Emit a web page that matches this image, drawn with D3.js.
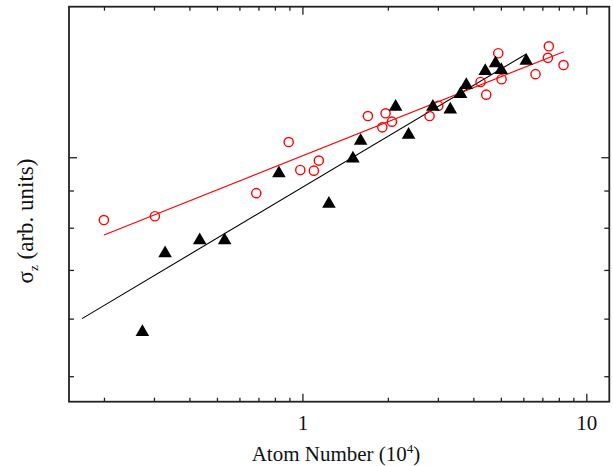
<!DOCTYPE html>
<html>
<head>
<meta charset="utf-8">
<script src="https://cdn.jsdelivr.net/npm/d3@7/dist/d3.min.js"></script>
<style>
  html, body { margin: 0; padding: 0; background: #fff; }
  svg text { font-family: "Liberation Serif", "Times New Roman", serif; fill: #111; }
</style>
</head>
<body>
<svg id="chart" width="613" height="466"></svg>
<script>
// Atom number (units of 10^4) and axial width sigma_z (arb. units)
const triangleAtoms = [0.272, 0.327, 0.433, 0.530, 0.823, 1.235, 1.500, 1.597, 2.121, 2.356, 2.869, 3.304, 3.592, 3.762, 4.388, 4.770, 4.995, 6.118];
const triangleSigma = [5.76, 7.39, 7.70, 7.70, 9.52, 8.64, 9.97, 10.55, 11.75, 10.75, 11.75, 11.65, 12.23, 12.59, 13.16, 13.48, 13.20, 13.59];

const circleAtoms = [0.199, 0.301, 0.685, 0.891, 0.979, 1.093, 1.138, 1.694, 1.904, 1.955, 2.058, 2.793, 2.998, 4.224, 4.423, 4.876, 5.008, 6.597, 7.290, 7.349, 8.279];
const circleSigma = [8.21, 8.31, 8.94, 10.51, 9.62, 9.60, 9.91, 11.41, 11.01, 11.51, 11.21, 11.41, 11.79, 12.71, 12.21, 13.92, 12.82, 13.03, 13.72, 14.23, 13.41];

// Power-law fits, given by their end points (straight on log-log axes)
const triangleFitAtoms = [0.1667, 6.118];
const triangleFitSigma = [6.01, 13.89];
const circleFitAtoms = [0.1992, 8.299];
const circleFitSigma = [7.83, 13.99];

// Axis ticks
const xMajorTicks = [1, 10];
const xMinorTicks = [0.2, 0.3, 0.4, 0.5, 0.6, 0.7, 0.8, 0.9, 2, 3, 4, 5, 6, 7, 8, 9];
const yMajorTicks = [10];
const yMinorTicks = [5, 6, 7, 8, 9];

const W = 613, H = 466;
const margin = { left: 69, right: 3.7, top: 6.7, bottom: 64.3 };
const svg = d3.select("#chart");

const x = d3.scaleLog().domain([0.15, 12]).range([margin.left, W - margin.right]);
const y = d3.scaleLog().domain([4.62, 16.13]).range([H - margin.bottom, margin.top]);

const x0 = margin.left, x1 = W - margin.right, y0 = H - margin.bottom, y1 = margin.top;

const frameColor = "#222";

// Inward ticks on all four sides
function xTicks(vals, len) {
  svg.append("g").selectAll("line.b").data(vals).join("line")
    .attr("x1", d => x(d)).attr("x2", d => x(d))
    .attr("y1", y0).attr("y2", y0 - len)
    .attr("stroke", frameColor).attr("stroke-width", 1.3);
  svg.append("g").selectAll("line.t").data(vals).join("line")
    .attr("x1", d => x(d)).attr("x2", d => x(d))
    .attr("y1", y1).attr("y2", y1 + len)
    .attr("stroke", frameColor).attr("stroke-width", 1.3);
}
function yTicks(vals, len) {
  svg.append("g").selectAll("line.l").data(vals).join("line")
    .attr("x1", x0).attr("x2", x0 + len)
    .attr("y1", d => y(d)).attr("y2", d => y(d))
    .attr("stroke", frameColor).attr("stroke-width", 1.3);
  svg.append("g").selectAll("line.r").data(vals).join("line")
    .attr("x1", x1).attr("x2", x1 - len)
    .attr("y1", d => y(d)).attr("y2", d => y(d))
    .attr("stroke", frameColor).attr("stroke-width", 1.3);
}
xTicks(xMajorTicks, 8);
xTicks(xMinorTicks, 4);
yTicks(yMajorTicks, 8);
yTicks(yMinorTicks, 5);

// Fit lines
const line = d3.line().x(d => x(d[0])).y(d => y(d[1]));
svg.append("path")
  .datum(d3.zip(triangleFitAtoms, triangleFitSigma))
  .attr("d", line).attr("fill", "none").attr("stroke", "#000").attr("stroke-width", 1.1);
svg.append("path")
  .datum(d3.zip(circleFitAtoms, circleFitSigma))
  .attr("d", line).attr("fill", "none").attr("stroke", "#f00").attr("stroke-width", 1.1);

// Data points
svg.append("g").selectAll("circle").data(d3.zip(circleAtoms, circleSigma)).join("circle")
  .attr("cx", d => x(d[0])).attr("cy", d => y(d[1])).attr("r", 4.6)
  .attr("fill", "none").attr("stroke", "#f00").attr("stroke-width", 1.4);

const tri = d3.symbol().type(d3.symbolTriangle).size(80);
svg.append("g").selectAll("path").data(d3.zip(triangleAtoms, triangleSigma)).join("path")
  .attr("transform", d => `translate(${x(d[0])},${y(d[1])})`)
  .attr("d", tri).attr("fill", "#000");

// Frame
svg.append("rect")
  .attr("x", x0).attr("y", y1).attr("width", x1 - x0).attr("height", y0 - y1)
  .attr("fill", "none").attr("stroke", frameColor).attr("stroke-width", 1.8);

// Tick labels
svg.append("g").selectAll("text").data(xMajorTicks).join("text")
  .attr("x", d => x(d)).attr("y", 430)
  .attr("text-anchor", "middle").attr("font-size", 21)
  .text(d => d);

// Axis titles
const xt = svg.append("text").attr("x", 336).attr("y", 461)
  .attr("text-anchor", "middle").attr("font-size", 21);
xt.append("tspan").text("Atom Number (10");
xt.append("tspan").attr("font-size", 13).attr("dy", -8).text("4");
xt.append("tspan").attr("dy", 8).text(")");

const yt = svg.append("text")
  .attr("transform", "translate(33,221) rotate(-90)")
  .attr("text-anchor", "middle").attr("font-size", 23);
yt.append("tspan").text("σ");
yt.append("tspan").attr("font-size", 13).attr("dy", 5).text("z");
yt.append("tspan").attr("dy", -5).text(" (arb. units)");
</script>
</body>
</html>
